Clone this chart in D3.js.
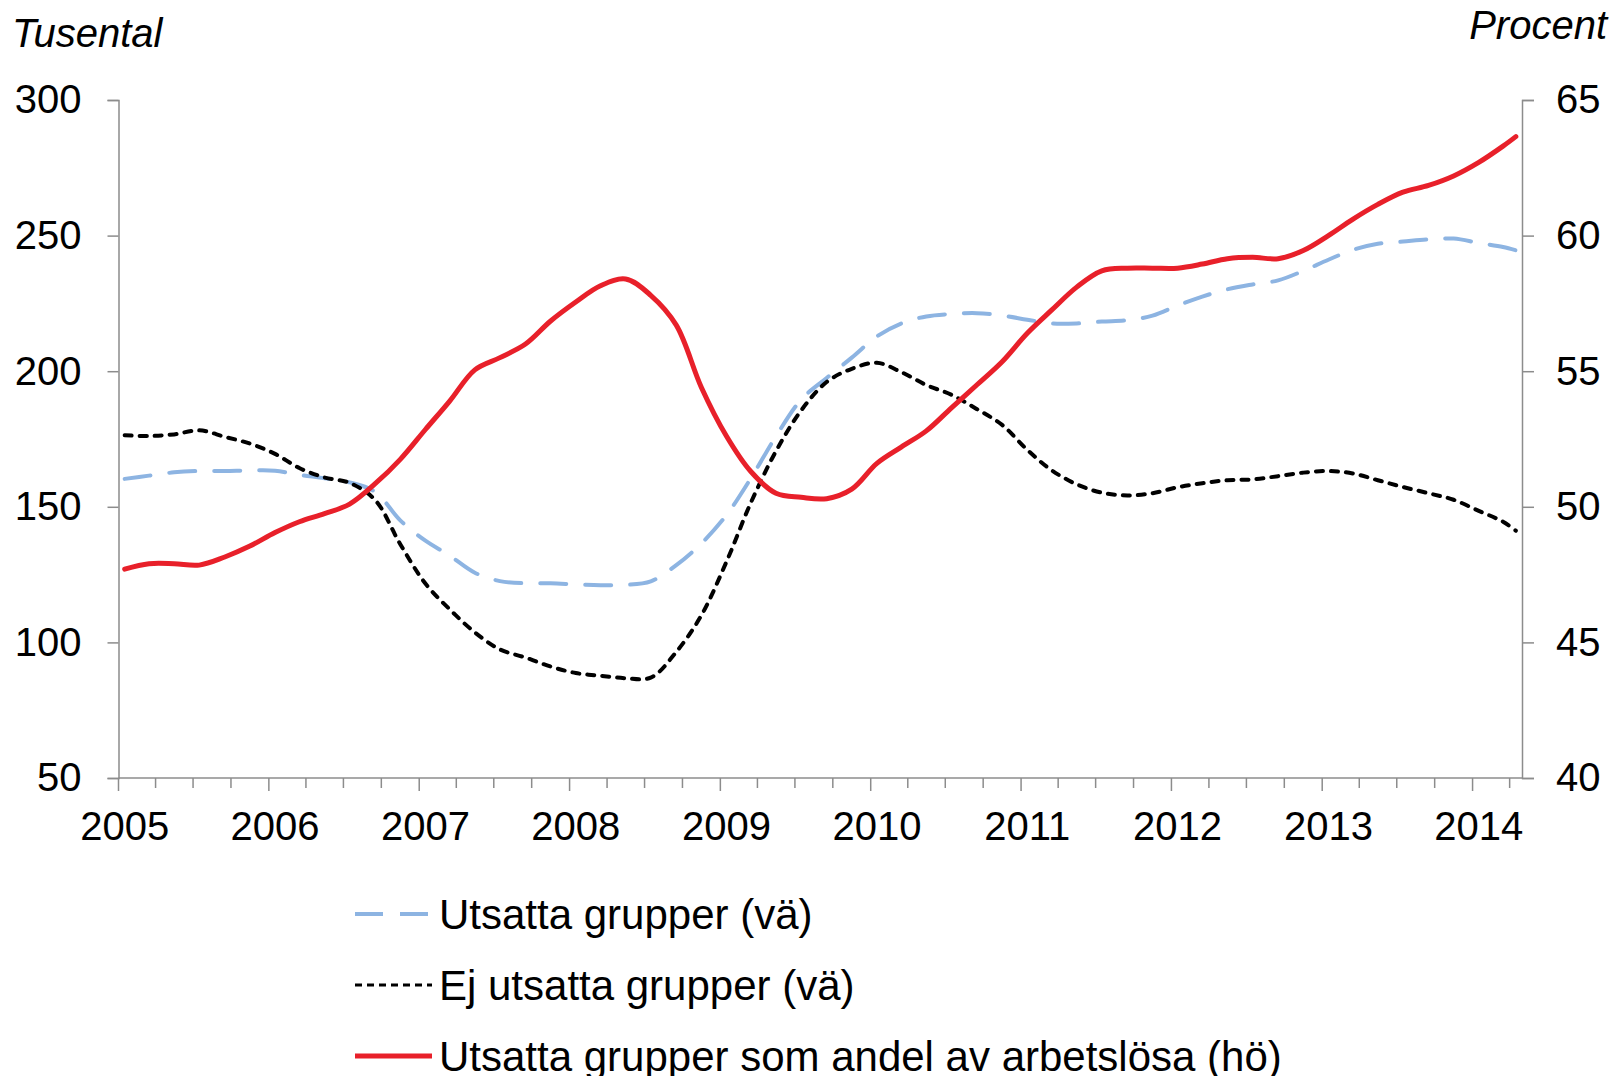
<!DOCTYPE html>
<html>
<head>
<meta charset="utf-8">
<script src="https://cdn.jsdelivr.net/npm/d3@7"></script>
<style>
  body { margin: 0; background: #fff; }
  text { font-family: "Liberation Sans", Arial, sans-serif; fill: #000; }
</style>
</head>
<body>
<svg id="chart" width="1615" height="1076"></svg>
<script>
// sample months (every second month), Jan 2005 .. Apr 2014
const months = [
  "2005-01","2005-03","2005-05","2005-07","2005-09","2005-11",
  "2006-01","2006-03","2006-05","2006-07","2006-09","2006-11",
  "2007-01","2007-03","2007-05","2007-07","2007-09","2007-11",
  "2008-01","2008-03","2008-05","2008-07","2008-09","2008-11",
  "2009-01","2009-03","2009-05","2009-07","2009-09","2009-11",
  "2010-01","2010-03","2010-05","2010-07","2010-09","2010-11",
  "2011-01","2011-03","2011-05","2011-07","2011-09","2011-11",
  "2012-01","2012-03","2012-05","2012-07","2012-09","2012-11",
  "2013-01","2013-03","2013-05","2013-07","2013-09","2013-11",
  "2014-01","2014-03","2014-04"
];

// Utsatta grupper, tusental (left axis)
const utsatta = [
  160.3,161.5,162.7,163.2,163.2,163.4,
  163.3,161.8,160.5,159.0,155.5,145.0,
  137.5,132.0,125.7,122.6,121.8,121.8,
  121.4,121.1,121.2,122.5,128.5,136.5,
  147.0,160.5,176.0,189.5,197.5,205.0,
  212.8,217.6,220.2,221.1,221.4,220.5,
  219.0,217.6,217.6,218.3,218.8,220.5,
  224.2,227.5,230.2,232.0,233.5,237.0,
  241.1,244.7,247.0,247.8,248.6,248.9,
  247.3,245.8,244.6
];

// Ej utsatta grupper, tusental (left axis)
const ejUtsatta = [
  176.4,176.1,176.7,178.2,175.8,173.3,
  169.5,164.3,160.8,158.8,152.5,136.2,
  121.7,112.2,103.7,97.4,94.4,91.1,
  88.7,87.7,86.8,87.0,96.5,110.0,
  129.8,151.5,170.5,185.5,196.0,200.9,
  203.1,199.7,194.9,191.3,186.0,180.2,
  171.0,163.5,158.3,155.2,154.2,155.0,
  157.2,158.7,159.8,160.1,161.3,162.6,
  163.2,162.3,159.8,157.3,155.0,152.6,
  148.5,144.5,141.2
];

// Utsatta grupper som andel av arbetslösa, procent (right axis)
const andel = [
  47.7,47.9,47.9,47.85,48.15,48.55,
  49.05,49.45,49.75,50.1,50.85,51.75,
  52.85,53.9,55.05,55.5,56.0,56.85,
  57.55,58.15,58.4,57.8,56.7,54.4,
  52.6,51.3,50.5,50.35,50.3,50.65,
  51.6,52.2,52.8,53.65,54.5,55.35,
  56.4,57.25,58.1,58.7,58.8,58.8,
  58.8,58.95,59.15,59.2,59.15,59.45,
  60.0,60.6,61.15,61.6,61.85,62.2,
  62.7,63.3,63.65
];

const leftTicks = [50, 100, 150, 200, 250, 300];
const rightTicks = [40, 45, 50, 55, 60, 65];
const yearLabels = d3.range(2005, 2015);

const legendItems = [
  { label: "Utsatta grupper (vä)", color: "#8DB4E2", width: 4, dash: "26,19", legendDash: "28,17", legendWidth: 4 },
  { label: "Ej utsatta grupper (vä)", color: "#000", width: 4, dash: "7,8", legendDash: "7,5", legendWidth: 3 },
  { label: "Utsatta grupper som andel av arbetslösa (hö)", color: "#E8202A", width: 5, dash: null, legendDash: null, legendWidth: 5 }
];

const svg = d3.select("#chart");
const plotLeft = 118.5, plotRight = 1522, plotTop = 100, plotBottom = 778;
const axisColor = "#8c8c8c";

const parseMonth = d3.timeParse("%Y-%m");
const midMonth = s => d3.timeDay.offset(parseMonth(s), 15);

const x = d3.scaleTime()
  .domain([new Date(2005, 0, 1), new Date(2014, 4, 1)])
  .range([plotLeft, plotRight]);
const yLeft = d3.scaleLinear().domain([50, 300]).range([plotBottom, plotTop]);
const yRight = d3.scaleLinear().domain([40, 65]).range([plotBottom, plotTop]);

// axes
const gLeft = svg.append("g").attr("transform", `translate(${plotLeft},0)`)
  .call(d3.axisLeft(yLeft).tickValues(leftTicks).tickSize(11).tickPadding(26));
const gRight = svg.append("g").attr("transform", `translate(${plotRight},0)`)
  .call(d3.axisRight(yRight).tickValues(rightTicks).tickSize(12).tickPadding(22));

const quarters = d3.timeMonth.every(3).range(new Date(2005, 0, 1), new Date(2014, 4, 1));
const gX = svg.append("g").attr("transform", `translate(0,${plotBottom})`);
gX.append("line")
  .attr("x1", plotLeft).attr("x2", plotRight)
  .attr("stroke", axisColor).attr("stroke-width", 1.5);
gX.selectAll("line.tick").data(quarters).join("line")
  .attr("class", "tick")
  .attr("x1", d => x(d)).attr("x2", d => x(d))
  .attr("y1", 0).attr("y2", d => d.getMonth() === 0 ? 13 : 10)
  .attr("stroke", axisColor).attr("stroke-width", 1.5);
gX.selectAll("text").data(yearLabels).join("text")
  .attr("x", d => x(new Date(d, 0, 16)))
  .attr("y", 62)
  .attr("text-anchor", "middle")
  .attr("font-size", 40)
  .text(d => d);

[gLeft, gRight].forEach(g => {
  g.select(".domain").attr("stroke", axisColor).attr("stroke-width", 1.5);
  g.selectAll(".tick line").attr("stroke", axisColor).attr("stroke-width", 1.5);
  g.selectAll(".tick text").attr("font-size", 40)
    .attr("font-family", "Liberation Sans, Arial, sans-serif").attr("fill", "#000");
});

// axis titles
svg.append("text").attr("x", 12).attr("y", 47)
  .attr("font-size", 40).attr("font-style", "italic").text("Tusental");
svg.append("text").attr("x", 1607).attr("y", 39)
  .attr("text-anchor", "end")
  .attr("font-size", 40).attr("font-style", "italic").text("Procent");

// series
const series = [
  { values: utsatta, y: yLeft, style: legendItems[0] },
  { values: ejUtsatta, y: yLeft, style: legendItems[1] },
  { values: andel, y: yRight, style: legendItems[2] }
];

series.forEach(s => {
  const line = d3.line()
    .x((d, i) => x(midMonth(months[i])))
    .y(d => s.y(d))
    .curve(d3.curveCatmullRom.alpha(0.5));
  svg.append("path")
    .datum(s.values)
    .attr("fill", "none")
    .attr("stroke", s.style.color)
    .attr("stroke-width", s.style.width)
    .attr("stroke-dasharray", s.style.dash)
    .attr("stroke-linejoin", "round")
    .attr("stroke-linecap", "round")
    .attr("d", line);
});

// legend
const legend = svg.append("g").attr("transform", "translate(355,914)");
legend.selectAll("g").data(legendItems).join("g")
  .attr("transform", (d, i) => `translate(0,${i * 71})`)
  .each(function (d) {
    const g = d3.select(this);
    g.append("line")
      .attr("x1", 0).attr("x2", 77)
      .attr("stroke", d.color)
      .attr("stroke-width", d.legendWidth)
      .attr("stroke-dasharray", d.legendDash);
    g.append("text")
      .attr("x", 84).attr("y", 15)
      .attr("font-size", 42)
      .text(d.label);
  });
</script>
</body>
</html>
